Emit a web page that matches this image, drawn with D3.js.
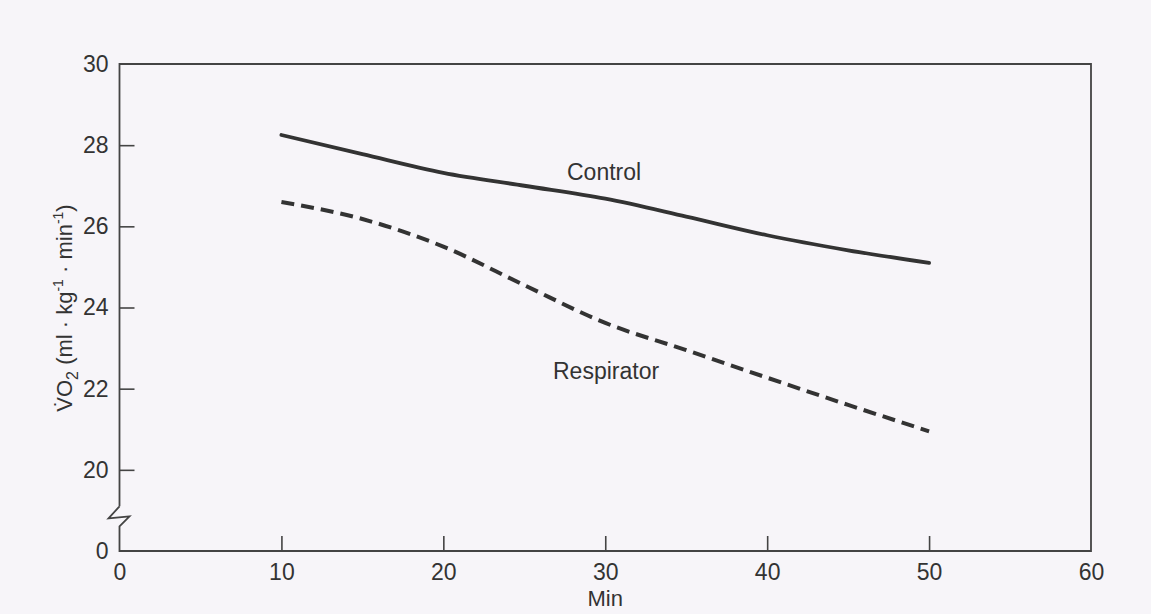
<!DOCTYPE html>
<html>
<head>
<meta charset="utf-8">
<script src="https://cdn.jsdelivr.net/npm/d3@7"></script>
<style>
  html, body { margin: 0; padding: 0; background: #f7f5f9; }
  svg { display: block; }
  text { font-family: "Liberation Sans", Arial, Helvetica, sans-serif; fill: #333; }
</style>
</head>
<body>
<div class="chart"></div>
<script>
// Data (VO2 vs time)
const minutes = [10, 15, 20, 25, 30, 35, 40, 45, 50];
const control = [28.25, 27.78, 27.32, 27.0, 26.68, 26.24, 25.78, 25.41, 25.1];
const respirator = [26.6, 26.18, 25.5, 24.55, 23.62, 22.95, 22.27, 21.6, 20.95];

const xTicks = [0, 10, 20, 30, 40, 50, 60];
// 18 sits where the axis is broken and is labelled 0
const yTicks = [18, 20, 22, 24, 26, 28, 30];

const width = 1151, height = 614;
const fs = 23;

const svg = d3.select('.chart').append('svg')
  .attr('width', width).attr('height', height);

// scales
const x = d3.scaleLinear().domain([0, 60]).range([119.5, 1091]);
const y = d3.scaleLinear().domain([18, 30]).range([551, 64]);

const ink = '#444';

// x axis (ticks point up into the plot)
const xAxis = d3.axisBottom(x).tickValues(xTicks).tickSizeInner(-15).tickSizeOuter(0).tickPadding(13);
const xAxisDraw = svg.append('g').attr('transform', `translate(0,${y(18)})`).call(xAxis);
xAxisDraw.select('.domain').remove();
xAxisDraw.selectAll('.tick line').attr('stroke', ink).attr('stroke-width', 1.6)
  .filter(d => d === 0 || d === 60).remove();
xAxisDraw.selectAll('.tick text').attr('font-size', fs).attr('fill', '#333');

// y axis (ticks point right into the plot)
const yAxis = d3.axisLeft(y).tickValues(yTicks).tickSizeInner(-15).tickSizeOuter(0).tickPadding(11)
  .tickFormat(d => d === 18 ? '0' : d);
const yAxisDraw = svg.append('g').attr('transform', `translate(${x(0)},0)`).call(yAxis);
yAxisDraw.select('.domain').remove();
yAxisDraw.selectAll('.tick line').attr('stroke', ink).attr('stroke-width', 1.6)
  .filter(d => d === 18 || d === 30).remove();
yAxisDraw.selectAll('.tick text').attr('font-size', fs).attr('fill', '#333');

// frame with the axis break between 0 and 20
const x0 = x(0), x1 = x(60), yTop = y(30), yBot = y(18);
const brk = y(19.1);
const frame = d3.path();
frame.moveTo(x0, brk);
frame.lineTo(x0, yTop);
frame.lineTo(x1, yTop);
frame.lineTo(x1, yBot);
frame.lineTo(x0, yBot);
frame.lineTo(x0, brk + 20);
frame.lineTo(x0 + 10, brk + 10);
frame.lineTo(x0 - 11, brk + 12);
frame.lineTo(x0, brk);
svg.append('path').attr('d', frame.toString())
  .attr('fill', 'none').attr('stroke', ink).attr('stroke-width', 1.8).attr('stroke-linejoin', 'miter');

// lines
const line = d3.line().x((d, i) => x(minutes[i])).y(d => y(d)).curve(d3.curveMonotoneX);

svg.append('path').datum(control).attr('d', line)
  .attr('fill', 'none').attr('stroke', '#333').attr('stroke-width', 3.8).attr('stroke-linecap', 'round');

svg.append('path').datum(respirator).attr('d', line)
  .attr('fill', 'none').attr('stroke', '#333').attr('stroke-width', 4)
  .attr('stroke-dasharray', '13 7');

// series labels
svg.append('text').attr('x', 567).attr('y', 180).attr('font-size', fs).text('Control');
svg.append('text').attr('x', 553).attr('y', 379).attr('font-size', fs).text('Respirator');

// axis titles
svg.append('text').attr('x', x(30)).attr('y', 606).attr('text-anchor', 'middle')
  .attr('font-size', 22).text('Min');

const yTitle = svg.append('text')
  .attr('transform', `translate(72,308) rotate(-90)`)
  .attr('text-anchor', 'middle').attr('font-size', 22);
yTitle.append('tspan').text('V\u0307O');
yTitle.append('tspan').attr('font-size', 16).attr('dy', 6).text('2');
yTitle.append('tspan').attr('dy', -6).text(' (ml · kg');
yTitle.append('tspan').attr('font-size', 14).attr('dy', -9).text('-1');
yTitle.append('tspan').attr('dy', 9).text(' · min');
yTitle.append('tspan').attr('font-size', 14).attr('dy', -9).text('-1');
yTitle.append('tspan').attr('dy', 9).text(')');
</script>
</body>
</html>
